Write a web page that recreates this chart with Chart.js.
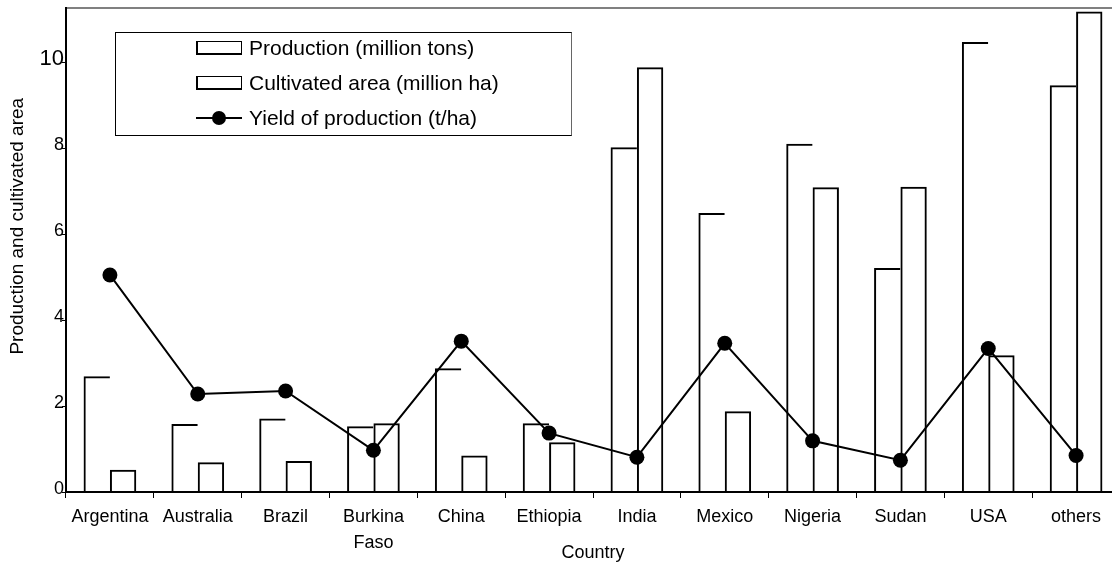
<!DOCTYPE html>
<html>
<head>
<meta charset="utf-8">
<title>Sorghum production by country</title>
<script src="https://cdn.jsdelivr.net/npm/chart.js@4.4.1/dist/chart.umd.min.js"></script>
<style>
  html, body { margin: 0; padding: 0; background: #fff; }
  .wrap { position: relative; width: 1112px; height: 564px; overflow: hidden; }
  #cropChart { position: absolute; left: 0; top: 0; }

  .legend-box {
    position: absolute; left: 115px; top: 32px; width: 457px; height: 104px;
    box-sizing: border-box; border: 1.5px solid #000; border-right-color: #666;
    font-family: 'Liberation Sans', Arial, sans-serif; font-size: 21px; color: #000;
  }
  .legend-row { position: absolute; left: 80px; height: 22px; display: flex; align-items: center; white-space: nowrap; }
  .legend-icon { position: relative; width: 46px; height: 14px; box-sizing: border-box; margin-right: 7px; }
  .legend-icon.bar { border-top: 1px solid #000; border-right: 1px solid #000; border-left: 2px solid #000; border-bottom: 2px solid #000; }
  .legend-icon.line::before { content: ''; position: absolute; left: 0; right: 0; top: 6px; height: 2px; background: #000; }
  .legend-icon.line::after { content: ''; position: absolute; left: 16px; top: 0; width: 14px; height: 14px; border-radius: 50%; background: #000; }
</style>
</head>
<body>
<div class="wrap">
  <canvas id="cropChart" width="1130" height="564"></canvas>
  <div class="legend-box" id="legend"></div>
</div>

<script>
// data
const countries = ['Argentina', 'Australia', 'Brazil', ['Burkina', 'Faso'], 'China', 'Ethiopia',
                   'India', 'Mexico', 'Nigeria', 'Sudan', 'USA', 'others'];
const production     = [2.69, 1.58, 1.71, 1.53, 2.88, 1.60, 8.02, 6.49, 8.10, 5.21, 10.47, 9.46];
const cultivatedArea = [0.52, 0.69, 0.72, 1.60, 0.85, 1.16, 9.88, 1.88, 7.09, 7.10, 3.18, 11.18];
const yieldPerHa     = [5.05, 2.28, 2.35, 0.97, 3.51, 1.37, 0.81, 3.46, 1.19, 0.74, 3.34, 0.85];
const yTicks = [0, 2, 4, 6, 8, 10];

let cropChart;

// legend drawn as html inside the plot, built from the datasets
function renderLegend(chart) {
    const box = document.getElementById('legend');
    box.innerHTML = '';
    chart.data.datasets.forEach((ds, i) => {
        const row = document.createElement('div');
        row.className = 'legend-row';
        row.style.top = (4 + i * 35) + 'px';
        row.innerHTML = `<span class="legend-icon ${ds.type === 'line' ? 'line' : 'bar'}"></span><span>${ds.label}</span>`;
        box.appendChild(row);
    });
}

function initChart() {
    const ctx = document.getElementById('cropChart').getContext('2d');

    Chart.defaults.font.family = "'Liberation Sans', Arial, sans-serif";
    Chart.defaults.color = '#000';

    cropChart = new Chart(ctx, {
        type: 'bar',
        data: {
            labels: countries,
            datasets: [
                {
                    label: 'Production (million tons)',
                    data: production,
                    backgroundColor: 'rgba(0,0,0,0)',
                    borderColor: '#000',
                    borderWidth: { top: 2, left: 2, right: 0, bottom: 0 },
                    borderSkipped: false,
                    order: 1
                },
                {
                    label: 'Cultivated area (million ha)',
                    data: cultivatedArea,
                    backgroundColor: 'rgba(0,0,0,0)',
                    borderColor: '#000',
                    borderWidth: { top: 2, left: 2, right: 2, bottom: 0 },
                    borderSkipped: false,
                    order: 1
                },
                {
                    type: 'line',
                    label: 'Yield of production (t/ha)',
                    data: yieldPerHa,
                    borderColor: '#000',
                    borderWidth: 2,
                    tension: 0,
                    pointRadius: 7.5,
                    pointBorderWidth: 0,
                    pointBackgroundColor: '#000',
                    order: 0
                }
            ]
        },
        options: {
            responsive: false,
            animation: false,
            categoryPercentage: 0.6,
            barPercentage: 1.0,
            layout: { padding: { top: 8, right: 10, left: 0, bottom: 0 } },
            plugins: {
                legend: { display: false },
                tooltip: { enabled: false }
            },
            scales: {
                x: {
                    offset: true,
                    grid: { offset: true, drawOnChartArea: false, tickLength: 6, color: '#000', lineWidth: 1 },
                    border: { color: '#000', width: 2 },
                    ticks: { font: { size: 18, lineHeight: 1.45 }, padding: 6, maxRotation: 0, autoSkip: false },
                    title: { display: true, text: 'Country', font: { size: 18 }, padding: { top: 0, bottom: 0 } },
                    afterFit: s => { s.height = 72; }
                },
                x2: {
                    type: 'category',
                    position: 'top',
                    grid: { display: false },
                    ticks: { display: false },
                    border: { color: '#808080', width: 2 },
                    afterFit: s => { s.height = 0; }
                },
                y: {
                    min: 0,
                    max: 11.26,
                    afterBuildTicks: s => { s.ticks = yTicks.map(v => ({ value: v })); },
                    grid: { drawOnChartArea: false, tickLength: 4, color: '#000', lineWidth: 1 },
                    border: { color: '#000', width: 2 },
                    ticks: {
                        padding: -2,
                        labelOffset: -3,
                        font: c => ({ size: c.tick && c.tick.value === 10 ? 22 : 18 })
                    },
                    // leading spaces nudge the title up the axis like in the figure
                    title: { display: true, text: '         Production and cultivated area', font: { size: 19 }, padding: { top: 6, bottom: 0 } },
                    afterFit: s => { s.width = 66; s.paddingTop = 0; s.paddingBottom = 0; }
                }
            }
        }
    });

    renderLegend(cropChart);
}

window.onload = () => {
    initChart();
};
</script>
</body>
</html>
